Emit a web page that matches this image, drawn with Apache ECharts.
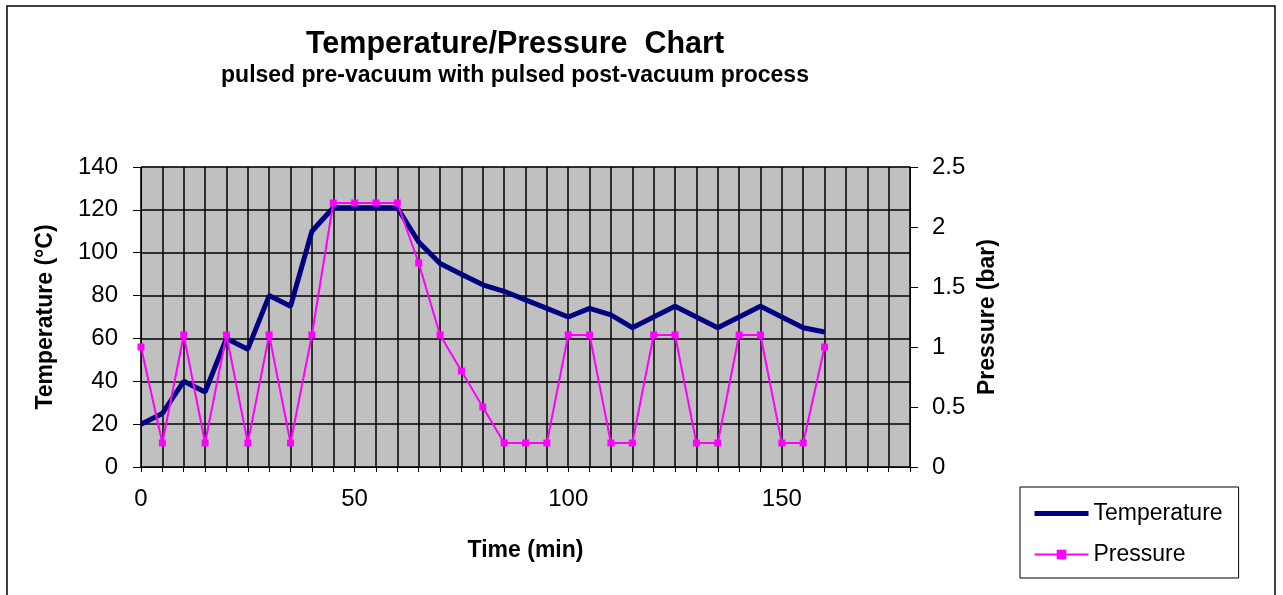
<!DOCTYPE html>
<html>
<head>
<meta charset="utf-8">
<script src="https://cdn.jsdelivr.net/npm/echarts@6/dist/echarts.min.js"></script>
<style>
html, body { margin: 0; padding: 0; background: #fff; }
#chart { width: 1283px; height: 595px; }
</style>
</head>
<body>
<div id="chart"></div>
<script>
// data, one point every 5 min
var times = [0, 5, 10, 15, 20, 25, 30, 35, 40, 45, 50, 55, 60, 65, 70, 75, 80, 85, 90, 95, 100,
	105, 110, 115, 120, 125, 130, 135, 140, 145, 150, 155, 160];
var temperature = [20, 25, 40, 35, 60, 55, 80, 75, 110, 121, 121, 121, 121, 105, 95, 90, 85, 82, 78, 74, 70,
	74, 71, 65, 70, 75, 70, 65, 70, 75, 70, 65, 63];
var pressure = [1.0, 0.2, 1.1, 0.2, 1.1, 0.2, 1.1, 0.2, 1.1, 2.2, 2.2, 2.2, 2.2, 1.7, 1.1, 0.8, 0.5, 0.2, 0.2, 0.2, 1.1,
	1.1, 0.2, 0.2, 1.1, 1.1, 0.2, 0.2, 1.1, 1.1, 0.2, 0.2, 1.0];
var xLabels = [0, 50, 100, 150];

var font = '"Liberation Sans", Arial, sans-serif';

function pairs(ys) {
	var out = [];
	for (var i = 0; i < times.length; i++) out.push([times[i], ys[i]]);
	return out;
}

var myChart = echarts.init(document.getElementById('chart'));

var nameStyle = { fontFamily: font, fontSize: 23, fontWeight: 'bold', color: '#000' };
var labelStyle = { fontFamily: font, fontSize: 24, color: '#000' };

var option = {
	backgroundColor: '#fff',
	animation: false,
	title: {
		text: 'Temperature/Pressure  Chart',
		subtext: 'pulsed pre-vacuum with pulsed post-vacuum process',
		left: 510,
		top: 24,
		textAlign: 'center',
		itemGap: 4,
		textStyle: { fontFamily: font, fontSize: 30.5, fontWeight: 'bold', color: '#000' },
		subtextStyle: { fontFamily: font, fontSize: 23, fontWeight: 'bold', color: '#000' }
	},
	legend: {
		orient: 'vertical',
		left: 1020,
		top: 487,
		padding: [15, 16, 12, 12],
		borderColor: '#000',
		borderWidth: 1,
		itemWidth: 54,
		itemHeight: 12,
		itemGap: 18,
		textStyle: { fontFamily: font, fontSize: 23, color: '#000' },
		data: [
			{ name: 'Temperature', itemStyle: { opacity: 0 }, lineStyle: { width: 5 } },
			{ name: 'Pressure', lineStyle: { width: 2 } }
		]
	},
	graphic: [{
		type: 'rect',
		shape: { x: 7, y: 6, width: 1268, height: 600 },
		style: { fill: 'none', stroke: '#000', lineWidth: 1.5 },
		silent: true
	}],
	grid: {
		left: 141,
		right: 373,
		top: 167,
		bottom: 128,
		show: true,
		backgroundColor: '#c0c0c0',
		borderColor: '#888',
		borderWidth: 1
	},
	xAxis: {
		type: 'value',
		min: 0,
		max: 180,
		interval: 5,
		name: 'Time (min)',
		nameLocation: 'middle',
		nameGap: 72,
		nameTextStyle: nameStyle,
		axisLine: { lineStyle: { color: '#000', width: 1 } },
		axisTick: { show: true, length: 5, lineStyle: { color: '#000' } },
		axisLabel: {
			fontFamily: font, fontSize: 24, color: '#000', margin: 20,
			formatter: function (v) { return xLabels.indexOf(v) >= 0 ? String(v) : ''; }
		},
		splitLine: { show: true, lineStyle: { color: '#000', width: 1.5 } }
	},
	yAxis: [{
		type: 'value',
		min: 0,
		max: 140,
		interval: 20,
		name: 'Temperature (°C)',
		nameLocation: 'middle',
		nameGap: 84,
		nameTextStyle: nameStyle,
		axisLine: { show: true, lineStyle: { color: '#000' } },
		axisTick: { show: true, length: 8, lineStyle: { color: '#000' } },
		axisLabel: Object.assign({ margin: 23 }, labelStyle),
		splitLine: { show: true, lineStyle: { color: '#000', width: 1.5 } }
	}, {
		type: 'value',
		min: 0,
		max: 2.5,
		interval: 0.5,
		name: 'Pressure (bar)',
		nameLocation: 'middle',
		nameGap: 65,
		nameTextStyle: nameStyle,
		axisLine: { show: true, lineStyle: { color: '#000' } },
		axisTick: { show: true, length: 8, lineStyle: { color: '#000' } },
		axisLabel: Object.assign({ margin: 22 }, labelStyle),
		splitLine: { show: false }
	}],
	series: [{
		name: 'Temperature',
		type: 'line',
		yAxisIndex: 0,
		data: pairs(temperature),
		symbol: 'none',
		color: '#000080',
		lineStyle: { color: '#000080', width: 5 },
		z: 3
	}, {
		name: 'Pressure',
		type: 'line',
		yAxisIndex: 1,
		data: pairs(pressure),
		symbol: 'rect',
		symbolSize: 7,
		color: '#ff00ff',
		itemStyle: { color: '#ff00ff' },
		lineStyle: { color: '#ff00ff', width: 2 },
		z: 4
	}]
};
myChart.setOption(option);
</script>
</body>
</html>
